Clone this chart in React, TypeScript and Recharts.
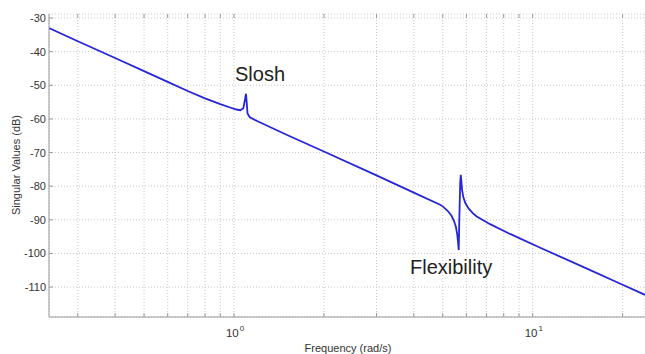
import React from 'react';
import { LineChart, Line, XAxis, YAxis, CartesianGrid } from 'recharts';

// frequency (rad/s) and singular value (dB)
const freq = [
  0.2403, 0.3, 0.4, 0.5, 0.6, 0.7, 0.8, 0.9, 0.97, 1.02, 1.05, 1.075, 1.09, 1.097, 1.103,
  1.11, 1.13, 1.2, 1.5, 2, 3, 4, 4.9, 5.0, 5.2, 5.35, 5.45, 5.53, 5.59, 5.63, 5.655,
  5.68, 5.72, 5.745, 5.77, 5.8, 5.86, 5.95, 6.1, 6.3, 6.5, 7.2, 8.4, 10.6, 15, 20, 23.77,
];
const gain = [
  -33.0, -36.9, -41.9, -45.8, -49.0, -51.7, -53.9, -55.6, -56.6, -57.2, -57.4, -56.8, -54.0, -52.5, -55.0,
  -58.4, -59.5, -60.7, -64.7, -69.7, -76.8, -81.9, -85.5, -86.0, -87.4, -88.8, -90.3, -92.0, -94.3, -97.0, -99.0,
  -90.0, -79.0, -76.6, -78.5, -81.0, -83.3, -85.0, -86.6, -88.0, -89.0, -91.3, -94.2, -98.3, -104.3, -109.3, -112.3,
];

const xTicks = [0.3, 0.4, 0.5, 0.6, 0.7, 0.8, 0.9, 1, 2, 3, 4, 5, 6, 7, 8, 9, 10, 20];
const yTicks = [-30, -40, -50, -60, -70, -80, -90, -100, -110];
const xDomain = [0.2403, 23.77];
const yDomain = [-118.9, -28.8];

const data = freq.map((f, i) => ({ f, g: gain[i] }));

const PLOT_TOP = 14;
const PLOT_BOTTOM = 317;
const axisColor = '#9a9a9a';
const textColor = '#333';

const XTick = (props: any) => {
  const { x, payload } = props;
  const v = payload.value;
  const major = v === 1 || v === 10;
  return (
    <g>
      <line x1={x} x2={x} y1={PLOT_BOTTOM} y2={PLOT_BOTTOM - 4} stroke={axisColor} />
      <line x1={x} x2={x} y1={PLOT_TOP} y2={PLOT_TOP + 4} stroke={axisColor} />
      {major && (
        <text x={x - 8} y={337} fontSize={11.5} fill={textColor} textAnchor="start">
          10
          <tspan dx={1} dy={-6} fontSize={8}>{v === 1 ? '0' : '1'}</tspan>
        </text>
      )}
    </g>
  );
};

const YTick = (props: any) => {
  const { x, y, payload } = props;
  return (
    <g>
      <line x1={x} x2={x + 4} y1={y} y2={y} stroke={axisColor} />
      <text x={x - 3} y={y + 4} fontSize={11} fill={textColor} textAnchor="end">
        {payload.value}
      </text>
    </g>
  );
};

export default function App() {
  return (
    <div
      style={{
        position: 'absolute',
        left: 0,
        top: 0,
        width: 645,
        height: 354,
        background: '#fff',
        fontFamily: '"Liberation Sans", Arial, sans-serif',
        overflow: 'hidden',
      }}
    >
      <LineChart width={645} height={354} data={data} margin={{ top: PLOT_TOP, right: 0, left: 0, bottom: 0 }}>
        <CartesianGrid stroke="#c8c8c8" strokeDasharray="1 2" />
        <XAxis
          dataKey="f"
          type="number"
          scale="log"
          domain={xDomain}
          ticks={xTicks}
          interval={0}
          allowDataOverflow
          height={37}
          tickSize={0}
          tickMargin={0}
          tickLine={false}
          axisLine={{ stroke: axisColor }}
          tick={<XTick />}
        />
        <XAxis
          xAxisId="top"
          orientation="top"
          dataKey="f"
          type="number"
          scale="log"
          domain={xDomain}
          allowDataOverflow
          height={0}
          tick={false}
          tickLine={false}
          axisLine={{ stroke: axisColor }}
        />
        <YAxis
          type="number"
          domain={yDomain}
          ticks={yTicks}
          interval={0}
          allowDataOverflow
          width={49}
          tickSize={0}
          tickMargin={0}
          tickLine={false}
          axisLine={{ stroke: axisColor }}
          tick={<YTick />}
        />
        <Line
          dataKey="g"
          type="linear"
          stroke="#2626d9"
          strokeWidth={1.8}
          dot={false}
          isAnimationActive={false}
        />
      </LineChart>
      <svg
        width={645}
        height={354}
        style={{ position: 'absolute', left: 0, top: 0, pointerEvents: 'none' }}
      >
        <text x={235} y={81} fontSize={20} fill="#222">Slosh</text>
        <text x={410} y={274} fontSize={20} fill="#222">Flexibility</text>
        <text x={348} y={352} fontSize={11} fill={textColor} textAnchor="middle">
          Frequency (rad/s)
        </text>
        <text
          x={20}
          y={165}
          fontSize={11}
          fill={textColor}
          textAnchor="middle"
          transform="rotate(-90 20 165)"
        >
          Singular Values (dB)
        </text>
      </svg>
    </div>
  );
}
